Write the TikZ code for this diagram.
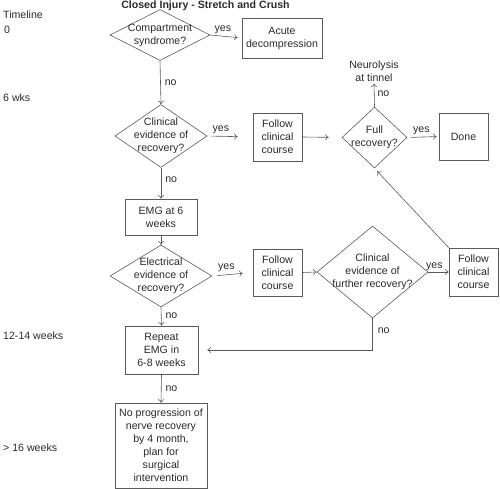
\documentclass[tikz,border=0pt]{standalone}
\usepackage{fontspec}
\setmainfont{Liberation Sans}
\usetikzlibrary{shapes.geometric,arrows.meta}
\definecolor{ink}{HTML}{2A2A2A}
\definecolor{edge}{HTML}{5A5A5A}
\begin{document}
\begin{tikzpicture}[x=1pt,y=-1pt,
  every node/.style={text=ink,font=\fontsize{10.6}{13}\selectfont,inner sep=0pt},
  box/.style={draw=edge,line width=0.6pt,rectangle,align=center},
  dia/.style={draw=edge,line width=0.6pt,diamond,inner sep=0pt},
  dtext/.style={align=center},
  lbl/.style={align=left},
  conn/.style={draw=edge,line width=0.6pt,-{To[length=3.5pt,width=6pt]}},
  line/.style={draw=edge,line width=0.6pt}]
\useasboundingbox (0,0) rectangle (500,489);
% title and timeline
\node (title) at (205.5,6) {\bfseries Closed Injury - Stretch and Crush};
\node[anchor=west] (tl) at (3,15) {Timeline};
\node[anchor=west] (t0) at (4,30) {0};
\node[anchor=west] (t6) at (3,98) {6 wks};
\node[anchor=west] (t12) at (3,336) {12-14 weeks};
\node[anchor=west] (t16) at (3,448) {> 16 weeks};
% diamonds
\node[dia,minimum width=100,minimum height=51] (d1) at (160,35) {};
\node[dtext] (d1t) at (d1) {Compartment\\syndrome?};
\node[dia,minimum width=92,minimum height=63] (d2) at (161,136) {};
\node[dtext] (d2t) at (d2) {Clinical\\evidence of\\recovery?};
\node[dia,minimum width=65,minimum height=61] (fr) at (374.5,137.5) {};
\node[dtext] (frt) at (fr) {Full\\recovery?};
\node[dia,minimum width=102,minimum height=62] (d3) at (161,276) {};
\node[dtext] (d3t) at (d3) {Electrical\\evidence of\\recovery?};
\node[dia,minimum width=111,minimum height=92] (d4) at (372.5,272) {};
\node[dtext] (d4t) at (d4) {Clinical\\evidence of\\further recovery?};
% boxes
\node[box,minimum width=80,minimum height=40] (acute) at (282,38) {Acute\\decompression};
\node[box,minimum width=49,minimum height=48] (f1) at (277.5,137) {Follow\\clinical\\course};
\node[box,minimum width=49,minimum height=47] (done) at (463.5,136.5) {Done};
\node[dtext] (neuro) at (374,71) {Neurolysis\\at tinnel};
\node[box,minimum width=72,minimum height=36] (emg) at (161,217) {EMG at 6\\weeks};
\node[box,minimum width=49,minimum height=47] (f2) at (277.5,272.5) {Follow\\clinical\\course};
\node[box,minimum width=49,minimum height=48] (f3) at (473.5,272) {Follow\\clinical\\course};
\node[box,minimum width=73,minimum height=48] (rep) at (161.5,350) {Repeat\\EMG in\\6-8 weeks};
\node[box,minimum width=92,minimum height=85] (final) at (161,445.5) {No progression of\\nerve recovery\\by 4 month,\\plan for\\surgical\\intervention};
% connectors
\draw[conn] (d1.south) -- node[lbl,anchor=west,xshift=4pt,pos=0.5] (n1) {no} (d2.north);
\draw[conn,shorten >=4pt] (d1.east) -- node[anchor=south,yshift=2pt,pos=0.4] (y1) {yes} (acute.west);
\draw[conn,shorten <=4pt,shorten >=15pt] (d2.east) -- node[anchor=south,yshift=2pt,pos=0.3] (y2) {yes} (f1.west);
\draw[conn,shorten >=13pt] (f1.east) -- (fr.west);
\draw[conn,shorten <=3pt,shorten >=2pt] (fr.east) -- node[anchor=south,yshift=2pt,pos=0.45] (y3) {yes} (done.west);
\draw[conn,shorten >=2pt] (fr.north) -- node[lbl,anchor=west,xshift=3pt] (n2) {no} (neuro.south);
\draw[conn] (d2.south) -- node[lbl,anchor=west,xshift=4pt,pos=0.4] (n3) {no} (emg.north);
\draw[conn] (emg.south) -- (d3.north);
\draw[conn,shorten <=5pt,shorten >=10pt] (d3.east) -- node[anchor=south,yshift=3pt,pos=0.35] (y4) {yes} (f2.west);
\draw[conn] (f2.east) -- (d4.west);
\draw[conn] (d4.east) -- node[anchor=south,yshift=1pt,pos=0.3] (y5) {yes} (f3.west);
\draw[conn,shorten >=4pt] (f3.north west) -- (fr.south);
\draw[conn] (d3.south) -- node[lbl,anchor=west,xshift=4pt,pos=0.45] (n4) {no} (rep.north);
\draw[conn,shorten >=9pt] (d4.south) -- node[lbl,anchor=west,xshift=5pt,pos=0.4] (n5) {no} (d4.south |- rep.east) -- (rep.east);
\draw[conn] (rep.south) -- node[lbl,anchor=west,xshift=4pt,pos=0.5] (n6) {no} (final.north);
\end{tikzpicture}
\end{document}
